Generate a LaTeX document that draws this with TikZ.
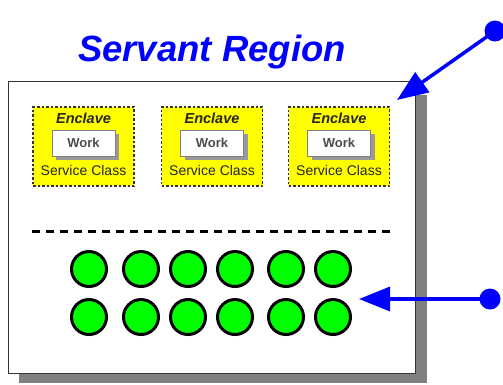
\documentclass[tikz,border=0pt]{standalone}
\usepackage{fontspec}
\setmainfont{Liberation Sans}
\usetikzlibrary{arrows.meta}
\definecolor{myblue}{RGB}{0,0,255}
\definecolor{mygreen}{RGB}{0,255,0}
\definecolor{myyellow}{RGB}{255,255,0}
\definecolor{shadowgray}{RGB}{128,128,128}
\begin{document}
\begin{tikzpicture}[x=1pt,y=-1pt,
  enclavebox/.style={draw=black!80,fill=myyellow,dashed,dash pattern=on 2.5pt off 2pt,line width=1.6pt,minimum width=101pt,minimum height=79pt,inner sep=0pt},
  workbox/.style={draw=black!50,fill=white,line width=0.6pt,minimum width=63pt,minimum height=26pt,inner sep=0pt,font=\fontsize{13}{13}\selectfont\bfseries,text=black!70},
  workshadow/.style={fill=shadowgray!80,minimum width=63pt,minimum height=26pt,inner sep=0pt},
  worker/.style={circle,draw=black,fill=mygreen,line width=3pt,minimum size=35pt,inner sep=0pt},
  pointer/.style={myblue,line width=3.5pt,-{Triangle[length=31pt,width=24pt]}},
  dotnode/.style={circle,fill=myblue,minimum size=21pt,inner sep=0pt}
]
\useasboundingbox (0,0) rectangle (503,384);
% region shadow and box
\fill[shadowgray] (19,95) rectangle (427,383);
\node[draw=black!80,fill=white,line width=1pt,minimum width=407pt,minimum height=292pt,inner sep=0pt,anchor=north west] (region) at (8,81) {};
% title
\node[font=\fontsize{36.5}{36.5}\selectfont\bfseries\itshape,text=myblue] (title) at (212,52) {Servant Region};
% enclaves
\foreach \i/\cx in {1/83.5,2/212,3/339}{
  \node[enclavebox] (enc\i) at (\cx,146.5) {};
  \node[font=\fontsize{14.5}{14.5}\selectfont\bfseries\itshape,text=black!85] (enct\i) at (\cx,118) {Enclave};
  \node[workshadow] (ws\i) at (\cx+4,147) {};
  \node[workbox] (work\i) at (\cx,143) {Work};
  \node[font=\fontsize{14}{14}\selectfont,text=black!85] (sc\i) at (\cx,170) {Service Class};
}
% separator
\coordinate (sepL) at (32,231);
\coordinate (sepR) at (390,231);
\draw[line width=3pt,dash pattern=on 8pt off 6pt] (sepL) -- (sepR);
% workers
\foreach \j/\cx in {1/89,2/141,3/188,4/235,5/286,6/333}{
  \node[worker] (wa\j) at (\cx,269) {};
  \node[worker] (wb\j) at (\cx,317) {};
}
% pointers
\node[dotnode] (dot1) at (495,31) {};
\coordinate (tip1) at (397,100);
\draw[pointer] (dot1.center) -- (tip1);
\node[dotnode] (dot2) at (490,299) {};
\coordinate (tip2) at (359,299);
\draw[pointer] (dot2.center) -- (tip2);
\end{tikzpicture}
\end{document}
